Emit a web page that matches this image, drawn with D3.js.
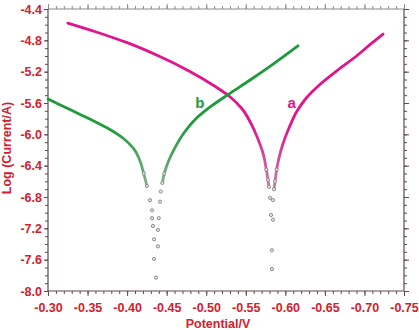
<!DOCTYPE html>
<html><head><meta charset="utf-8">
<script src="https://cdn.jsdelivr.net/npm/d3@7"></script>
<style>
html,body{margin:0;padding:0;background:#fff;overflow:hidden}
text{font-family:"Liberation Sans",Arial,sans-serif;font-weight:bold}
</style></head>
<body>
<svg id="c" width="419" height="330"></svg>
<script>
// ---- data (potential in V, log current in A) ----
const xTicks = [-0.30,-0.35,-0.40,-0.45,-0.50,-0.55,-0.60,-0.65,-0.70,-0.75];
const yTicks = [-4.4,-4.8,-5.2,-5.6,-6.0,-6.4,-6.8,-7.2,-7.6,-8.0];

// curve a (magenta): left branch and right branch, each ending at the dip
const aLeftE = [-0.325,-0.360,-0.400,-0.440,-0.480,-0.510,-0.530,-0.545,-0.556,-0.565,-0.572,-0.576,-0.578,-0.5793,-0.5806,-0.5819,-0.5831,-0.5831];
const aLeftI = [-4.58,-4.69,-4.83,-5.00,-5.20,-5.38,-5.52,-5.67,-5.85,-6.05,-6.25,-6.45,-6.58,-6.67,-6.81,-7.03,-7.48,-7.72];
const aRightE = [-0.7235,-0.710,-0.690,-0.665,-0.643,-0.627,-0.615,-0.605,-0.597,-0.592,-0.589,-0.587,-0.5857,-0.5844,-0.5844];
const aRightI = [-4.72,-4.83,-5.00,-5.19,-5.37,-5.53,-5.70,-5.91,-6.12,-6.30,-6.45,-6.60,-6.70,-6.84,-7.09];

// curve b (green)
const bLeftE = [-0.300,-0.325,-0.350,-0.375,-0.395,-0.408,-0.416,-0.421,-0.425,-0.429,-0.4315,-0.4315,-0.4327,-0.434,-0.434,-0.4365];
const bLeftI = [-5.55,-5.67,-5.79,-5.92,-6.05,-6.18,-6.33,-6.50,-6.66,-6.84,-6.97,-7.07,-7.17,-7.34,-7.59,-7.83];
const bRightE = [-0.616,-0.585,-0.555,-0.528,-0.505,-0.487,-0.472,-0.460,-0.452,-0.447,-0.4445,-0.4425,-0.4416,-0.440,-0.439,-0.439];
const bRightI = [-4.87,-5.10,-5.31,-5.49,-5.65,-5.80,-5.98,-6.18,-6.35,-6.50,-6.62,-6.73,-6.86,-7.07,-7.22,-7.43];

const seriesLabels = ["a","b"];
const seriesColors = ["#e0148c","#1e9a3c"];
const labelE = [-0.608,-0.492];
const labelI = [-5.67,-5.67];

// ---- layout ----
const L=48,R=404,T=9,B=291;
const svg=d3.select("#c");
const x=d3.scaleLinear().domain([-0.30,-0.75]).range([L,R]);
const y=d3.scaleLinear().domain([-4.4,-8.0]).range([T,B]);
const red="#d4202c", frame="#5e4a4a";

// gradients (solid colour fading to muted grey towards the dip)
const defs=svg.append("defs");
seriesColors.forEach((c,i)=>{
  const g=defs.append("linearGradient").attr("id","g"+i)
    .attr("gradientUnits","userSpaceOnUse").attr("x1",0).attr("x2",0)
    .attr("y1",y(-5.9)).attr("y2",y(-6.6));
  g.append("stop").attr("offset",0).attr("stop-color",c);
  g.append("stop").attr("offset",1).attr("stop-color",d3.interpolateRgb(c,"#b8b8b8")(0.6));
});

// axes
const minorX=d3.range(0,46).map(i=>-0.30-0.01*i);
const minorY=d3.range(0,37).map(i=>-4.4-0.1*i);
function ax(gen,scale,vals,size,fmt,pad,pos,col){
  const g=svg.append("g").attr("transform",pos)
    .call(gen(scale).tickValues(vals).tickSize(size).tickSizeOuter(0).tickPadding(pad).tickFormat(fmt||(()=> "")));
  g.select(".domain").remove();
  g.selectAll("line").attr("stroke",col||frame).attr("stroke-width",1);
  g.selectAll("text").attr("fill",red).style("font-size","12.5px").style("font-weight","bold");
  return g;
}
ax(d3.axisBottom,x,minorX,3,null,0,`translate(0,${B})`);
ax(d3.axisBottom,x,xTicks,5,d=>d.toFixed(2),7,`translate(0,${B})`);
ax(d3.axisTop,x,minorX,3,null,0,`translate(0,${T})`,"#8a8a8a");
ax(d3.axisTop,x,xTicks,5,null,0,`translate(0,${T})`,"#8a8a8a");
ax(d3.axisLeft,y,minorY,3,null,0,`translate(${L},0)`);
ax(d3.axisLeft,y,yTicks,4,d=>d.toFixed(1),2,`translate(${L},0)`);
ax(d3.axisRight,y,minorY,3,null,0,`translate(${R},0)`);
ax(d3.axisRight,y,yTicks,5,null,0,`translate(${R},0)`);

// frame
svg.append("line").attr("x1",L).attr("x2",R).attr("y1",T).attr("y2",T).attr("stroke","#8a8a8a");
svg.append("line").attr("x1",L).attr("x2",R).attr("y1",B).attr("y2",B).attr("stroke",frame).attr("stroke-width",1.2);
svg.append("line").attr("x1",L).attr("x2",L).attr("y1",T).attr("y2",B).attr("stroke",frame).attr("stroke-width",1.2);
svg.append("line").attr("x1",R).attr("x2",R).attr("y1",T).attr("y2",B).attr("stroke",frame).attr("stroke-width",1.2);

// curves
const line=d3.line().x(d=>x(d[0])).y(d=>y(d[1])).curve(d3.curveMonotoneY);
const branches=[[aLeftE,aLeftI,0],[aRightE,aRightI,0],[bLeftE,bLeftI,1],[bRightE,bRightI,1]];
branches.forEach(([E,I,s])=>{
  const pts=E.map((e,k)=>[e,I[k]]);
  const upper=pts.filter(p=>p[1]>=-6.72);
  svg.append("path").datum(upper).attr("d",line).attr("fill","none")
    .attr("stroke",`url(#g${s})`).attr("stroke-width",2.8).attr("stroke-linecap","round");
  const lower=pts.filter(p=>p[1]<-6.4);
  svg.selectAll(null).data(lower).enter().append("circle")
    .attr("cx",d=>x(d[0])).attr("cy",d=>y(d[1])).attr("r",1.6)
    .attr("fill","#e8e8e8")
    .attr("stroke",d=>d3.interpolateRgb(seriesColors[s],"#8c8c8c")(Math.min(1,(-6.4-d[1])/0.5+0.55)))
    .attr("stroke-width",1);
});

// labels a/b
seriesLabels.forEach((t,i)=>{
  svg.append("text").attr("x",x(labelE[i])).attr("y",y(labelI[i]))
    .attr("text-anchor","middle").attr("fill",seriesColors[i]).style("font-size","15px").text(t);
});

// axis titles
svg.append("text").attr("x",218).attr("y",328).attr("text-anchor","middle")
  .attr("fill",red).style("font-size","12.5px").text("Potential/V");
svg.append("text").attr("transform","translate(11,148) rotate(-90)").attr("text-anchor","middle")
  .attr("fill",red).style("font-size","12.5px").text("Log (Current/A)");
</script>
</body></html>
